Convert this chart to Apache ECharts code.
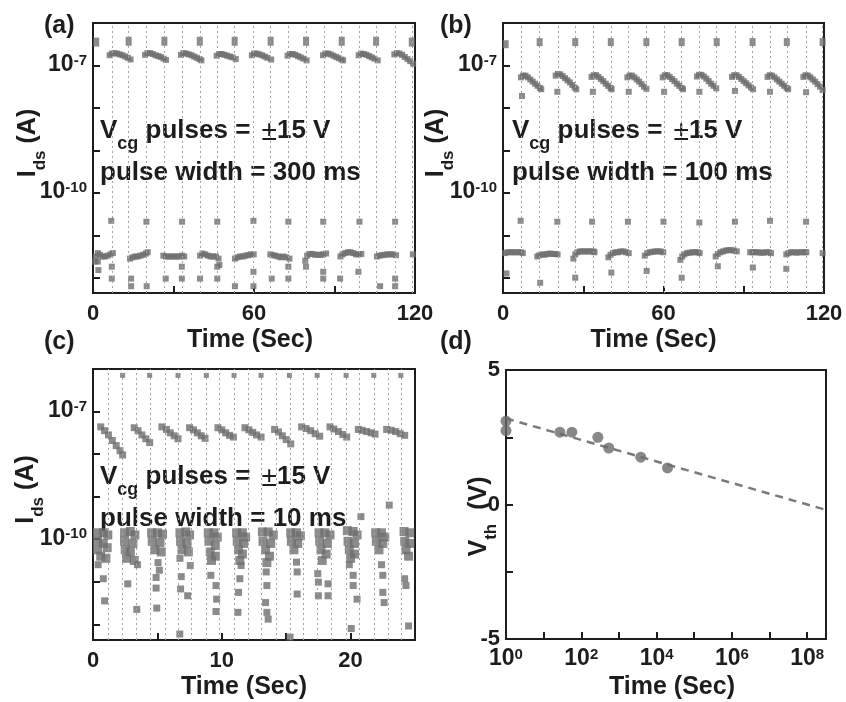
<!DOCTYPE html>
<html>
<head>
<meta charset="utf-8">
<script src="https://cdn.jsdelivr.net/npm/echarts@6/dist/echarts.min.js"></script>
<style>
  html, body { margin: 0; padding: 0; background: #fff; }
  #chart { width: 846px; height: 702px; }
</style>
</head>
<body>
<div id="chart"></div>
<script>
// values are [time (s), log10 Ids (A)] for panels a-c, [log10 t, Vth] for d

// (a) pulse width 300 ms
const aPulses = [7.0, 13.3, 20.0, 26.6, 33.2, 39.8, 46.4, 52.8, 59.8, 66.2, 72.8, 79.4, 86.0, 92.7, 99.3, 105.5, 112.6, 118.8]
const aTop = [[1.2, -6.45], [13.3, -6.43], [26.6, -6.43], [39.8, -6.43], [52.8, -6.43], [66.2, -6.43], [79.4, -6.43], [92.7, -6.43], [105.5, -6.43], [118.8, -6.45]]
const aHigh = [
  [6.2, -6.76], [7, -6.72], [8, -6.71], [9, -6.72], [10, -6.74], [11, -6.76], [12, -6.79], [13, -6.82], [14, -6.86],
  [19.4, -6.75], [20.3, -6.71], [21.3, -6.71], [22.3, -6.73], [23.3, -6.76], [24.3, -6.78], [25.3, -6.8], [26.3, -6.84], [27.2, -6.87],
  [32.8, -6.75], [33.7, -6.71], [34.7, -6.72], [35.7, -6.74], [36.7, -6.76], [37.7, -6.79], [38.7, -6.82], [39.7, -6.85], [40.4, -6.88],
  [46.1, -6.77], [47, -6.73], [48, -6.73], [49, -6.75], [50, -6.77], [51, -6.79], [52, -6.81], [53.2, -6.85],
  [59.2, -6.76], [60, -6.72], [61, -6.72], [62, -6.74], [63, -6.76], [64, -6.79], [65, -6.82], [66.4, -6.86],
  [72.5, -6.77], [73.4, -6.73], [74.4, -6.73], [75.4, -6.75], [76.4, -6.78], [77.4, -6.81], [78.4, -6.84], [79.6, -6.88],
  [85.7, -6.76], [86.6, -6.72], [87.6, -6.72], [88.6, -6.74], [89.6, -6.77], [90.6, -6.8], [91.6, -6.83], [92.6, -6.86], [93.2, -6.88],
  [99, -6.76], [99.9, -6.72], [100.9, -6.73], [101.9, -6.75], [102.9, -6.78], [103.9, -6.81], [104.9, -6.84], [106.1, -6.88],
  [112.3, -6.74], [113.2, -6.71], [114.2, -6.72], [115.2, -6.75], [116.2, -6.8], [117.2, -6.85], [118.2, -6.9], [119.3, -6.96]
]
const aMid = [[6.8, -10.66], [19.9, -10.68], [33.2, -10.68], [46.3, -10.68], [59.8, -10.66], [72.8, -10.68], [85.8, -10.68], [99.3, -10.68], [112.6, -10.68]]
const aLow = [
  [0.8, -11.62], [1.0, -11.5], [1.8, -11.42], [1.8, -11.62], [2.6, -11.46], [3.5, -11.5], [4.5, -11.5], [5.5, -11.48], [6.5, -11.45], [7.4, -11.42],
  [13.8, -11.55], [14.7, -11.52], [15.7, -11.5], [16.7, -11.5], [17.7, -11.48], [18.7, -11.46], [19.7, -11.43], [20.4, -11.4],
  [26.2, -11.48], [27.2, -11.5], [28.2, -11.5], [29.2, -11.5], [30.2, -11.5], [31.2, -11.5], [32.2, -11.5], [33.2, -11.48], [34, -11.5],
  [39.9, -11.48], [40.8, -11.43], [41.8, -11.45], [42.8, -11.48], [43.8, -11.5], [44.8, -11.5], [45.8, -11.5], [46.8, -11.55], [47.1, -11.7],
  [52.9, -11.55], [53.8, -11.52], [54.8, -11.5], [55.8, -11.5], [56.8, -11.48], [57.8, -11.47], [58.8, -11.45], [59.9, -11.45],
  [66.1, -11.45], [67, -11.47], [68, -11.48], [69, -11.5], [70, -11.52], [71, -11.5], [72, -11.52], [73.2, -11.55],
  [79.1, -11.6], [79.8, -11.48], [80.8, -11.44], [81.8, -11.44], [82.8, -11.46], [83.8, -11.46], [84.8, -11.46], [85.8, -11.45], [86.9, -11.43],
  [92.2, -11.5], [93, -11.45], [94, -11.42], [95, -11.4], [96, -11.4], [97, -11.42], [98, -11.45], [99, -11.45], [100, -11.44],
  [105.8, -11.5], [106.7, -11.48], [107.7, -11.47], [108.7, -11.46], [109.7, -11.45], [110.7, -11.45], [111.7, -11.45], [112.9, -11.47],
  [119.2, -11.45]
]
const aBottom = [
  [2.0, -11.82], [7.0, -11.74], [7.0, -12.02], [14.2, -12.02], [14.2, -12.2], [20.0, -12.2], [27.1, -12.02], [33.1, -11.74], [33.1, -12.02],
  [39.9, -12.02], [46.3, -11.74], [46.3, -12.02], [52.9, -12.2], [59.8, -11.86], [59.8, -12.2], [66.6, -12.02], [72.8, -11.74], [72.8, -12.02],
  [79.4, -11.74], [85.8, -11.86], [85.8, -12.02], [92.1, -12.02], [98.9, -11.86], [107, -12.2], [112.6, -12.02], [112.6, -12.2]
]

// (b) pulse width 100 ms
const bPulses = [6.9, 13.7, 20.5, 27, 33.6, 40.5, 47, 53.6, 60.4, 66.8, 73.4, 79.9, 86.7, 93.3, 99.8, 106.1, 113.3, 119.5]
const bTop = [[1.0, -6.5], [13.7, -6.45], [27.0, -6.45], [40.3, -6.45], [53.6, -6.45], [66.8, -6.45], [79.9, -6.45], [93.3, -6.45], [106.1, -6.45], [119.5, -6.45]]
const bHigh = [
  [6.7, -7.28], [7.5, -7.24], [8.4, -7.24], [9.3, -7.28], [10.2, -7.33], [11.1, -7.38], [12, -7.43], [12.9, -7.48], [13.8, -7.53], [14.3, -7.56],
  [19.7, -7.24], [20.5, -7.2], [21.4, -7.21], [22.3, -7.25], [23.2, -7.3], [24.1, -7.35], [25, -7.4], [25.9, -7.46], [26.8, -7.52], [27.4, -7.56],
  [33.1, -7.27], [33.9, -7.23], [34.8, -7.23], [35.7, -7.27], [36.6, -7.32], [37.5, -7.37], [38.4, -7.43], [39.3, -7.48], [40.2, -7.53], [40.6, -7.56],
  [46.5, -7.28], [47.3, -7.24], [48.2, -7.24], [49.1, -7.28], [50, -7.33], [50.9, -7.38], [51.8, -7.44], [52.7, -7.5], [53.6, -7.55],
  [59.7, -7.28], [60.5, -7.23], [61.4, -7.23], [62.3, -7.27], [63.2, -7.32], [64.1, -7.37], [65, -7.43], [65.9, -7.48], [66.8, -7.53], [67.3, -7.56],
  [72.5, -7.26], [73.3, -7.22], [74.2, -7.22], [75.1, -7.26], [76, -7.31], [76.9, -7.37], [77.8, -7.43], [78.7, -7.48], [79.7, -7.54],
  [85.6, -7.27], [86.4, -7.23], [87.3, -7.23], [88.2, -7.27], [89.1, -7.32], [90, -7.37], [90.9, -7.42], [91.8, -7.47], [92.7, -7.52], [93.5, -7.56],
  [98.9, -7.27], [99.7, -7.23], [100.6, -7.24], [101.5, -7.28], [102.4, -7.33], [103.3, -7.38], [104.2, -7.43], [105.1, -7.48], [106, -7.53], [106.6, -7.56],
  [112.3, -7.27], [113.1, -7.23], [114, -7.24], [114.9, -7.28], [115.8, -7.33], [116.7, -7.38], [117.6, -7.44], [118.5, -7.5], [119.5, -7.58]
]
const bDrop = [[7.1, -7.72], [20.3, -7.62], [33.6, -7.62], [47, -7.62], [60.2, -7.62], [73.4, -7.62], [86.7, -7.6], [99.8, -7.62], [113.3, -7.63]]
const bMid = [[6.6, -10.66], [20.3, -10.68], [33.3, -10.68], [46.7, -10.68], [60, -10.68], [73.4, -10.7], [86.7, -10.68], [99.8, -10.66], [113.3, -10.68]]
const bLow = [
  [0.8, -11.42], [1.7, -11.4], [2.7, -11.4], [3.7, -11.4], [4.7, -11.4], [5.7, -11.4], [6.7, -11.4], [7.4, -11.42],
  [12.8, -11.5], [13.6, -11.47], [14.6, -11.45], [15.6, -11.46], [16.6, -11.44], [17.6, -11.43], [18.6, -11.44], [19.6, -11.44], [20.4, -11.45],
  [26.3, -11.55], [27, -11.45], [27.8, -11.4], [28.8, -11.38], [29.8, -11.38], [30.8, -11.38], [31.8, -11.38], [32.8, -11.38], [33.8, -11.38], [34.2, -11.4],
  [39.4, -11.52], [40.2, -11.46], [41.1, -11.42], [42.1, -11.4], [43, -11.4], [44, -11.38], [45, -11.38], [46, -11.4], [47, -11.42],
  [53, -11.48], [53.9, -11.42], [54.9, -11.4], [55.9, -11.39], [56.9, -11.38], [57.9, -11.38], [58.9, -11.38], [59.9, -11.4],
  [66.3, -11.58], [67, -11.5], [67.8, -11.45], [68.8, -11.42], [69.8, -11.41], [70.8, -11.4], [71.8, -11.4], [72.8, -11.4], [73.5, -11.42],
  [79.5, -11.5], [80.3, -11.44], [81.3, -11.4], [82.3, -11.38], [83.3, -11.36], [84.3, -11.35], [85.3, -11.35], [86.3, -11.36], [87.4, -11.38],
  [92.4, -11.4], [93.3, -11.4], [94.3, -11.4], [95.3, -11.4], [96.3, -11.41], [97.3, -11.41], [98.3, -11.4], [99.3, -11.4], [100.2, -11.42],
  [105.9, -11.45], [106.7, -11.42], [107.7, -11.4], [108.7, -11.4], [109.7, -11.41], [110.7, -11.4], [111.7, -11.4], [112.7, -11.4], [113.4, -11.4],
  [119.5, -11.42]
]
const bBottom = [[1.3, -11.9], [13.9, -12.12], [27.0, -12.0], [40.5, -11.88], [53.7, -11.84], [66.8, -12.0], [80.3, -11.73], [93.4, -11.76], [105.9, -11.79]]

// (c) pulse width 10 ms
const cPulses = [1.19, 2.3, 3.39, 4.42, 5.58, 6.6, 7.65, 8.81, 9.84, 10.95, 12.04, 13.1, 14.2, 15.3, 16.3, 17.4, 18.5, 19.7, 20.7, 21.8, 22.9, 23.9]
const cTop = [[2.3, -6.15], [4.4, -6.15], [6.6, -6.15], [8.8, -6.15], [10.95, -6.15], [13.05, -6.15], [15.25, -6.15], [17.4, -6.15], [19.65, -6.15], [21.8, -6.15], [23.9, -6.15]]
const cHigh = [
  [0.6, -7.36], [0.9, -7.45], [1.2, -7.55], [1.5, -7.68], [1.8, -7.8], [2.1, -7.92], [2.3, -8.02],
  [3.2, -7.38], [3.5, -7.45], [3.8, -7.55], [4.1, -7.64], [4.4, -7.73],
  [5.35, -7.36], [5.7, -7.42], [6.0, -7.5], [6.3, -7.57], [6.6, -7.64],
  [7.5, -7.38], [7.8, -7.43], [8.1, -7.5], [8.4, -7.57], [8.7, -7.63],
  [9.7, -7.38], [10, -7.43], [10.3, -7.5], [10.6, -7.56], [10.9, -7.6],
  [11.8, -7.38], [12.1, -7.43], [12.4, -7.49], [12.7, -7.55], [13.05, -7.6],
  [14.1, -7.42], [14.4, -7.48], [14.7, -7.57], [15.0, -7.66], [15.35, -7.76],
  [16.2, -7.36], [16.55, -7.4], [16.9, -7.45], [17.25, -7.52], [17.6, -7.58],
  [18.4, -7.36], [18.7, -7.41], [19.05, -7.47], [19.4, -7.54], [19.7, -7.6],
  [20.6, -7.42], [20.9, -7.44], [21.25, -7.47], [21.6, -7.5], [21.9, -7.53],
  [22.8, -7.42], [23.15, -7.44], [23.5, -7.47], [23.85, -7.52], [24.2, -7.56]
]
const cLowDense = [
  [0.35, -9.85], [0.8, -9.85], [1.15, -9.9], [0.35, -10.05], [0.8, -10.1], [0.35, -10.25], [1.1, -10.2], [0.6, -10.4], [1.0, -10.45],
  [2.45, -9.85], [2.9, -9.82], [3.25, -9.9], [2.45, -10.05], [3.1, -10.1], [2.5, -10.25], [2.9, -10.3], [2.6, -10.45], [3.2, -10.5],
  [4.55, -9.85], [5.0, -9.85], [5.4, -9.88], [4.6, -10.05], [5.2, -10.08], [4.8, -10.25], [5.3, -10.3],
  [6.75, -9.85], [7.2, -9.83], [7.5, -9.9], [6.8, -10.05], [7.3, -10.1], [6.9, -10.25], [7.4, -10.3],
  [8.95, -9.85], [9.4, -9.85], [9.65, -9.95], [9.0, -10.05], [9.5, -10.15], [9.1, -10.3], [9.5, -10.4], [9.2, -10.5],
  [11.15, -9.85], [11.6, -9.85], [11.85, -9.95], [11.2, -10.05], [11.7, -10.1], [11.3, -10.25], [11.6, -10.35], [11.4, -10.5],
  [13.15, -9.83], [13.6, -9.83], [14.0, -9.9], [13.2, -10.05], [13.8, -10.1], [13.4, -10.25], [13.7, -10.4], [13.5, -10.55],
  [15.35, -9.85], [15.8, -9.85], [16.1, -9.92], [15.4, -10.05], [15.9, -10.1], [15.6, -10.25],
  [17.55, -9.85], [18.0, -9.85], [18.4, -9.9], [17.6, -10.05], [18.2, -10.1], [17.7, -10.25], [18.1, -10.35], [17.8, -10.5],
  [19.75, -9.8], [20.2, -9.82], [20.5, -9.9], [19.8, -10.05], [20.3, -10.1], [19.9, -10.25], [20.3, -10.35], [20.0, -10.45],
  [21.95, -9.85], [22.4, -9.85], [22.65, -9.95], [22.0, -10.05], [22.5, -10.1], [22.2, -10.25],
  [24.15, -9.82], [24.6, -9.85], [24.2, -10.05], [24.6, -10.1], [24.3, -10.25], [24.5, -10.4]
]
const cLowScatter = [
  [0.4, -10.6], [0.8, -10.93], [0.9, -11.45],
  [3.45, -10.6], [2.7, -11.05], [3.4, -11.65],
  [5.05, -10.55], [5.15, -10.73], [4.9, -10.9], [4.9, -11.15], [4.95, -11.62],
  [6.75, -10.45], [7.55, -10.62], [6.85, -10.88], [6.8, -11.17], [7.35, -11.33], [6.74, -12.23],
  [9.15, -10.85], [9.55, -11.09], [9.6, -11.41], [9.55, -11.7],
  [11.5, -10.62], [11.4, -10.93], [11.3, -11.25], [11.25, -11.72],
  [13.45, -10.77], [13.5, -11.09], [13.4, -11.49], [13.5, -11.72], [13.6, -11.88],
  [15.8, -10.54], [15.85, -10.77], [15.85, -11.29], [15.3, -12.3],
  [17.45, -10.81], [17.5, -11.01], [18.25, -11.05], [17.5, -11.33], [18.25, -11.33],
  [19.9, -10.6], [20.2, -10.85], [20.2, -11.09], [20.5, -11.41], [20.05, -12.1],
  [22.4, -10.6], [22.5, -10.85], [22.5, -11.25], [22.6, -11.49],
  [24.2, -10.93], [24.3, -11.09], [24.5, -12.04],
  [20.8, -9.47], [23.0, -9.2]
]

// (d) retention: x = log10(time / s)
const dPoints = [[0, 3.1], [0, 2.75], [1.43, 2.69], [1.75, 2.69], [2.44, 2.5], [2.73, 2.1], [3.58, 1.76], [4.29, 1.36]]
const dFit = [[0, 3.2], [8.5, -0.2]]

const FONT = '"Liberation Sans", Arial, sans-serif'
const INK = '#1d1d1d'
const DOT = '#6e6e6e'

const chart = echarts.init(document.getElementById('chart'), null, { renderer: 'canvas' })

const labelRich = {
  m: { fontSize: 23, fontWeight: 'bold', fontFamily: FONT, color: INK, lineHeight: 25, verticalAlign: 'top' },
  p: { fontSize: 15, fontWeight: 'bold', fontFamily: FONT, color: INK, lineHeight: 15, verticalAlign: 'top' }
}
const nameRich = {
  m: { fontSize: 25, fontWeight: 'bold', fontFamily: FONT, color: INK, lineHeight: 30, verticalAlign: 'top' },
  s: { fontSize: 17, fontWeight: 'bold', fontFamily: FONT, color: INK, lineHeight: 17, padding: [16, 0, 0, 0], verticalAlign: 'top' }
}
const textRich = {
  m: { fontSize: 26, fontWeight: 'bold', fontFamily: FONT, fill: INK, lineHeight: 30, verticalAlign: 'top' },
  s: { fontSize: 18, fontWeight: 'bold', fontFamily: FONT, fill: INK, lineHeight: 18, padding: [17, 0, 0, 0], verticalAlign: 'top' },
  pm: { fontSize: 28, fontFamily: FONT, fill: INK, lineHeight: 30, padding: [0, 0, 0, 4], verticalAlign: 'top' }
}
const tickStyle = { color: INK, width: 2 }

function sup(v) {
  return '{m|10}{p|' + v + '}'
}

function timeAxis(gridIndex, max, interval, pad, showMax) {
  return {
    gridIndex: gridIndex,
    type: 'value',
    min: 0,
    max: max,
    interval: interval,
    axisLine: { show: false, onZero: false },
    splitLine: { show: false },
    axisTick: { inside: true, length: 7, lineStyle: tickStyle },
    minorTick: { show: true, splitNumber: 2, length: 7, lineStyle: tickStyle },
    axisLabel: { fontSize: 22, fontWeight: 'bold', fontFamily: FONT, color: INK, margin: 10, showMaxLabel: showMax },
    name: 'Time (Sec)',
    nameLocation: 'middle',
    nameGap: 35,
    nameMoveOverlap: false,
    nameTextStyle: { fontSize: 25, fontWeight: 'bold', fontFamily: FONT, color: INK, padding: pad }
  }
}

function idsAxis(gridIndex, min, gap) {
  return {
    gridIndex: gridIndex,
    type: 'value',
    min: min,
    max: -6,
    axisLine: { show: false, onZero: false },
    splitLine: { show: false },
    axisTick: { inside: true, length: 7, customValues: [-12, -11, -10, -9, -8, -7], lineStyle: tickStyle },
    axisLabel: { customValues: [-10, -7], margin: 6, formatter: sup, rich: labelRich },
    name: '{m|I}{s|ds}{m| (A)}',
    nameLocation: 'middle',
    nameRotate: 90,
    nameGap: gap,
    nameMoveOverlap: false,
    nameTextStyle: { rich: nameRich, padding: [0, 0, 0, 30] }
  }
}

function pulseLines(xi, list) {
  return {
    type: 'line',
    xAxisIndex: xi,
    yAxisIndex: xi,
    data: [],
    z: 1,
    silent: true,
    markLine: {
      silent: true,
      symbol: 'none',
      animation: false,
      label: { show: false },
      lineStyle: { color: '#a3a3a3', type: [2, 3], width: 1 },
      data: list.map(t => ({ xAxis: t }))
    }
  }
}

function dots(xi, data, size) {
  return {
    type: 'scatter',
    xAxisIndex: xi,
    yAxisIndex: xi,
    symbol: 'rect',
    symbolSize: size,
    z: 3,
    itemStyle: { color: DOT },
    data: data
  }
}

function caption(x, y, width) {
  return [
    { type: 'text', x: x, y: y, style: { text: '{m|V}{s|cg}{m| pulses = }{pm|±}{m|15 V}', rich: textRich } },
    { type: 'text', x: x, y: y + 42, style: { text: '{m|pulse width = ' + width + '}', rich: textRich } }
  ]
}

function panelTag(x, y, t) {
  return { type: 'text', x: x, y: y, style: { text: t, fontSize: 25, fontWeight: 'bold', fontFamily: FONT, fill: INK } }
}

const frame = { show: true, borderColor: INK, borderWidth: 2, backgroundColor: 'transparent' }

chart.setOption({
  animation: false,
  backgroundColor: '#ffffff',
  grid: [
    Object.assign({ left: 93, top: 23, width: 322, height: 270 }, frame),
    Object.assign({ left: 503, top: 23, width: 321, height: 270 }, frame),
    Object.assign({ left: 93, top: 369, width: 322, height: 271 }, frame),
    Object.assign({ left: 506, top: 370, width: 320, height: 269 }, frame)
  ],
  xAxis: [
    timeAxis(0, 120, 60, [0, 8, 0, 0], true),
    timeAxis(1, 120, 60, [0, 20, 0, 0], true),
    timeAxis(2, 25, 10, [0, 20, 0, 0], false),
    {
      gridIndex: 3,
      type: 'value',
      min: 0,
      max: 8.5,
      interval: 2,
      axisLine: { show: false, onZero: false },
      splitLine: { show: false },
      axisTick: { inside: true, length: 7, lineStyle: tickStyle },
      minorTick: { show: true, splitNumber: 2, length: 7, lineStyle: tickStyle },
      axisLabel: { margin: 8, formatter: sup, rich: labelRich },
      name: 'Time (Sec)',
      nameLocation: 'middle',
      nameGap: 36,
      nameMoveOverlap: false,
      nameTextStyle: { fontSize: 25, fontWeight: 'bold', fontFamily: FONT, color: INK, padding: [0, 0, 0, 12] }
    }
  ],
  yAxis: [
    idsAxis(0, -12.36, 47),
    idsAxis(1, -12.36, 49),
    idsAxis(2, -12.37, 49),
    {
      gridIndex: 3,
      type: 'value',
      min: -5,
      max: 5,
      interval: 5,
      axisLine: { show: false, onZero: false },
      splitLine: { show: false },
      axisTick: { inside: true, length: 7, lineStyle: tickStyle },
      minorTick: { show: true, splitNumber: 2, length: 7, lineStyle: tickStyle },
      axisLabel: { fontSize: 22, fontWeight: 'bold', fontFamily: FONT, color: INK, margin: 6 },
      name: '{m|V}{s|th}{m|  (V)}',
      nameLocation: 'middle',
      nameRotate: 90,
      nameGap: 9,
      nameMoveOverlap: false,
      nameTextStyle: { rich: nameRich, padding: [0, 24, 0, 0] }
    }
  ],
  series: [
    pulseLines(0, aPulses),
    dots(0, aTop, [6, 9]),
    dots(0, aHigh.concat(aMid, aLow, aBottom), 6),
    pulseLines(1, bPulses),
    dots(1, bTop, [6, 8]),
    dots(1, bHigh.concat(bDrop, bMid, bLow, bBottom), 6),
    pulseLines(2, cPulses),
    dots(2, cTop, 5),
    dots(2, cHigh, 7),
    dots(2, cLowDense, 9),
    dots(2, cLowScatter, 7),
    {
      type: 'line',
      xAxisIndex: 3,
      yAxisIndex: 3,
      data: dFit,
      symbol: 'none',
      z: 2,
      lineStyle: { color: '#7a7a7a', width: 2.5, type: [8, 6] }
    },
    {
      type: 'scatter',
      xAxisIndex: 3,
      yAxisIndex: 3,
      symbol: 'circle',
      symbolSize: 11,
      z: 3,
      itemStyle: { color: '#6a6a6a' },
      data: dPoints
    }
  ],
  graphic: [
    panelTag(44, 14, '(a)'),
    panelTag(440, 14, '(b)'),
    panelTag(44, 330, '(c)'),
    panelTag(440, 330, '(d)')
  ].concat(caption(100, 118, '300 ms'), caption(512, 118, '100 ms'), caption(100, 464, '10 ms'))
})
</script>
</body>
</html>
